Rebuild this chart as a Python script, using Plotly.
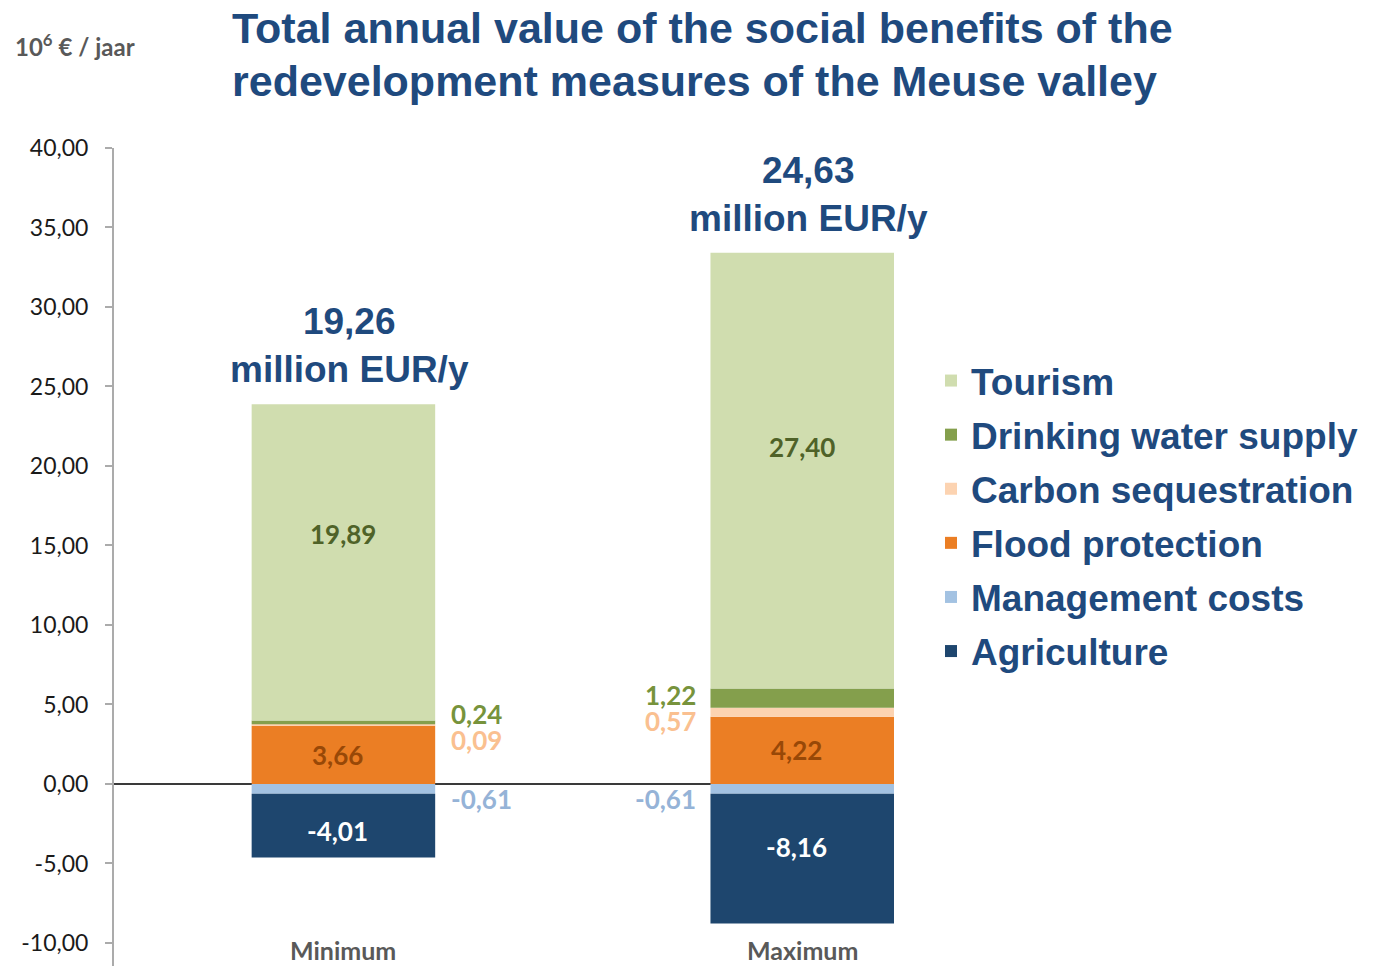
import plotly.graph_objects as go

# ---------------- data ----------------
categories = ["Minimum", "Maximum"]
flood = [3.66, 4.22]
carbon = [0.09, 0.57]
drinking = [0.24, 1.22]
tourism = [19.89, 27.40]
management = [-0.61, -0.61]
agriculture = [-4.01, -8.16]
net_totals = [19.26, 24.63]
y_ticks = [-10, -5, 0, 5, 10, 15, 20, 25, 30, 35, 40]

series = [
    ("Flood protection", flood, "#EB7E24", 4),
    ("Carbon sequestration", carbon, "#FCD3B1", 3),
    ("Drinking water supply", drinking, "#849F4C", 2),
    ("Tourism", tourism, "#D0DDAF", 1),
    ("Management costs", management, "#A3C2E2", 5),
    ("Agriculture", agriculture, "#1E466E", 6),
]

OFF = 8  # page body margin
W, H = 1375 - OFF, 966 - OFF
ML, MT = 114 - OFF, 148 - OFF
MR = W - (894 - OFF)
MB = 0
PW, PH = W - ML - MR, H - MT - MB


def px(p):  # p in reference-screenshot pixels
    return (p - OFF - ML) / PW


def py(p):
    return (H - MB - (p - OFF)) / PH


def fmt(v):
    return f"{v:.2f}".replace(".", ",")


fig = go.Figure()
for i, (name, vals, col, rank) in enumerate(series):
    fig.add_trace(go.Bar(
        x=categories, y=vals, name=name, marker=dict(color=col, line=dict(width=0)),
        width=0.4, legendrank=rank, legendgroup=name, hoverinfo="skip",
    ))

TITLE_C = "#1F4A7E"
annotations = []

# title
for txt, yc in [("Total annual value of the social benefits of the", 28),
                ("redevelopment measures of the Meuse valley", 81)]:
    annotations.append(dict(text=txt, xref="paper", yref="paper", x=px(230), y=py(yc),
                            xanchor="left", yanchor="middle", showarrow=False,
                            font=dict(family="Liberation Sans", size=43, color=TITLE_C, weight=700)))
# unit label
annotations.append(dict(text="10<sup>6</sup> € / jaar", xref="paper", yref="paper",
                        x=px(13), y=py(45), xanchor="left", yanchor="middle", showarrow=False,
                        font=dict(family="Lato", size=24, color="#595959", weight=700)))

# category labels (inside the plot area, at its bottom)
for cat in categories:
    annotations.append(dict(text=cat, x=cat, xref="x", yref="paper", y=py(950),
                            yanchor="middle", showarrow=False,
                            font=dict(family="Lato", size=25, color="#595959", weight=700)))

# totals above bars
pos_tops = [f + c + d + t for f, c, d, t in zip(flood, carbon, drinking, tourism)]
for i, cat in enumerate(categories):
    annotations.append(dict(text=f"{fmt(net_totals[i])}<br>million EUR/y",
                            x=cat, y=pos_tops[i], xref="x", yref="y",
                            xanchor="center", yanchor="bottom", yshift=12, xshift=6,
                            showarrow=False,
                            font=dict(family="Liberation Sans", size=37, color=TITLE_C, weight=700)))

LBL = "Lato"
for i, cat in enumerate(categories):
    fl_c = flood[i] / 2
    to_c = flood[i] + carbon[i] + drinking[i] + tourism[i] / 2
    ag_c = management[i] + agriculture[i] / 2
    annotations.append(dict(text=fmt(tourism[i]), x=cat, y=to_c, xref="x", yref="y",
                            showarrow=False, yshift=28 if i == 0 else 24,
                            font=dict(family=LBL, size=26, color="#4F6228", weight=700)))
    annotations.append(dict(text=fmt(flood[i]), x=cat, y=fl_c, xref="x", yref="y",
                            showarrow=False, xshift=-6,
                            font=dict(family=LBL, size=26, color="#984807", weight=700)))
    annotations.append(dict(text=fmt(agriculture[i]), x=cat, y=ag_c, xref="x", yref="y",
                            showarrow=False, yshift=-5 if i == 0 else 12, xshift=-6,
                            font=dict(family=LBL, size=26, color="#FFFFFF", weight=700)))
    if i == 0:
        xa, xs = "left", 106
        sh = (8, -15, -10)
    else:
        xa, xs = "right", -104
        sh = (3, -9, -10)
    dr_c = flood[i] + carbon[i] + drinking[i] / 2
    ca_c = flood[i] + carbon[i] / 2
    ma_c = management[i] / 2
    for txt, yy, col, s in [(fmt(drinking[i]), dr_c, "#77933C", sh[0]),
                            (fmt(carbon[i]), ca_c, "#FAC090", sh[1]),
                            (fmt(management[i]), ma_c, "#95B3D7", sh[2])]:
        annotations.append(dict(text=txt, x=cat, y=yy, xref="x", yref="y",
                                xanchor=xa, xshift=xs, yshift=s, showarrow=False,
                                font=dict(family=LBL, size=26, color=col, weight=700)))

fig.update_layout(
    width=W, height=H,
    margin=dict(l=ML, r=MR, t=MT, b=MB, autoexpand=False),
    barmode="relative",
    plot_bgcolor="white", paper_bgcolor="white",
    showlegend=True,
    legend=dict(x=px(931), y=py(350), xanchor="left", yanchor="top",
                font=dict(family="Liberation Sans", size=37, color=TITLE_C, weight=700),
                tracegroupgap=3, itemwidth=30, bgcolor="rgba(0,0,0,0)"),
    annotations=annotations,
    xaxis=dict(range=[-0.5, 1.2], showline=False, showgrid=False, zeroline=False,
               ticks="", showticklabels=False),
    yaxis=dict(range=[-11.45, 40], tickvals=y_ticks, ticktext=[fmt(v) for v in y_ticks],
               showgrid=False, showline=True, linecolor="#ABABAB", linewidth=2,
               ticks="outside", ticklen=7, tickcolor="#ABABAB", tickwidth=2,
               zeroline=True, zerolinecolor="#3A3A3A", zerolinewidth=1.5,
               layer="above traces", ticklabelstandoff=12,
               tickfont=dict(family="Lato", size=23, color="#1A1A1A")),
)

fig.write_html("out.html")
